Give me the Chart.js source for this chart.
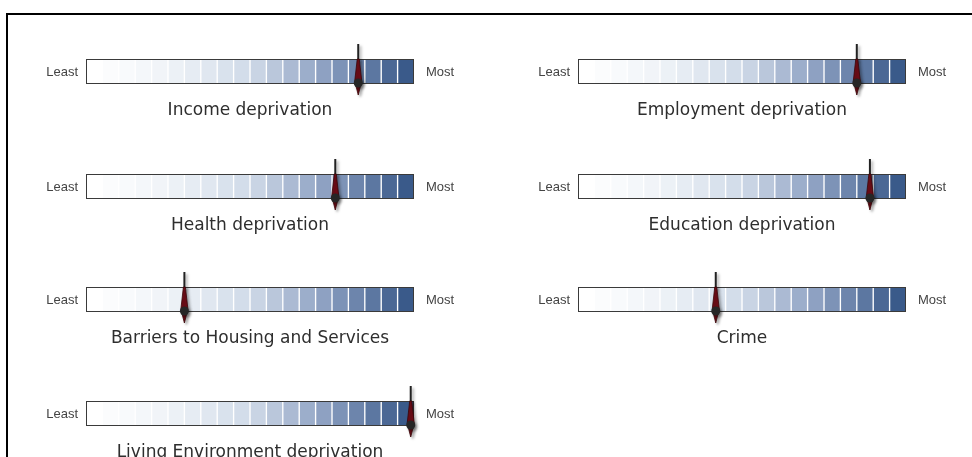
<!DOCTYPE html>
<html>
<head>
<meta charset="utf-8">
<script src="https://cdn.jsdelivr.net/npm/chart.js@4"></script>
<style>
  body { margin: 0; width: 972px; height: 457px; overflow: hidden; background: #fff; position: relative; }
  #frame { position: absolute; left: 6px; top: 13px; right: 0; bottom: 0; border-top: 2px solid #000; border-left: 2px solid #000; }
  canvas { position: absolute; }
</style>
</head>
<body>
<div id="frame"></div>
<script>
// indicator names and where each area sits (percent, least -> most deprived)
const indicators = ['Income deprivation', 'Employment deprivation', 'Health deprivation',
  'Education deprivation', 'Barriers to Housing and Services', 'Crime', 'Living Environment deprivation'];
const scores = [83, 85, 76, 89, 30, 42, 99];
const scaleEnds = ['Least', 'Most'];
const bandCount = 20;

// page layout
const colLeft = [41, 533];
const rowTop = [40, 155, 268, 382];

// white -> navy ramp for the bands
const ramp = [[255,255,255],[238,242,247],[208,218,232],[138,158,192],[58,90,138]];
function bandColor(i) {
  const t = i / (bandCount - 1) * (ramp.length - 1);
  const k = Math.min(Math.floor(t), ramp.length - 2), f = t - k;
  const c = ramp[k].map((v, j) => Math.round(v + (ramp[k + 1][j] - v) * f));
  return 'rgb(' + c.join(',') + ')';
}

const gaugePlugin = {
  id: 'gauge',
  afterDatasetsDraw(chart, args, opts) {
    const ctx = chart.ctx;
    const el = chart.getDatasetMeta(0).data[0];
    const xs = chart.scales.x;
    const top = Math.round(el.y - el.height / 2), bottom = Math.round(el.y + el.height / 2);
    const left = Math.round(xs.getPixelForValue(0)), right = Math.round(xs.getPixelForValue(100));
    ctx.save();
    ctx.strokeStyle = '#3a3a3a';
    ctx.lineWidth = 1;
    ctx.strokeRect(left + 0.5, top + 0.5, right - left - 1, bottom - top - 1);

    ctx.font = '13px "Liberation Sans", Arial, sans-serif';
    ctx.fillStyle = '#444';
    ctx.textBaseline = 'middle';
    ctx.textAlign = 'right';
    ctx.fillText(scaleEnds[0], left - 8, el.y + 1);
    ctx.textAlign = 'left';
    ctx.fillText(scaleEnds[1], right + 12, el.y + 1);

    // needle
    const x = xs.getPixelForValue(opts.score);
    ctx.shadowColor = 'rgba(0,0,0,0.35)';
    ctx.shadowBlur = 3;
    ctx.shadowOffsetX = 2;
    ctx.shadowOffsetY = 2;
    ctx.strokeStyle = '#222';
    ctx.lineWidth = 2;
    ctx.beginPath();
    ctx.moveTo(x, top - 15);
    ctx.lineTo(x, top + 2);
    ctx.stroke();
    ctx.fillStyle = '#6e0c17';
    ctx.beginPath();
    ctx.moveTo(x - 1, top);
    ctx.lineTo(x + 1, top);
    ctx.lineTo(x + 3.5, bottom - 3);
    ctx.lineTo(x, bottom + 11);
    ctx.lineTo(x - 3.5, bottom - 3);
    ctx.closePath();
    ctx.fill();
    ctx.strokeStyle = '#3a0508';
    ctx.lineWidth = 0.8;
    ctx.stroke();
    ctx.fillStyle = '#262626';
    ctx.beginPath();
    ctx.arc(x, bottom - 1, 4.5, 0, Math.PI * 2);
    ctx.fill();
    ctx.restore();
  }
};

indicators.forEach((name, i) => {
  const cv = document.createElement('canvas');
  cv.width = 429;
  cv.height = 100;
  cv.style.left = colLeft[i % 2] + 'px';
  cv.style.top = rowTop[Math.floor(i / 2)] + 'px';
  document.body.appendChild(cv);

  const bands = [];
  for (let b = 0; b < bandCount; b++) {
    bands.push({
      data: [100 / bandCount],
      backgroundColor: bandColor(b),
      borderColor: '#fff',
      borderWidth: { left: 1, right: 1, top: 0, bottom: 0 },
      borderSkipped: false,
      barPercentage: 1,
      categoryPercentage: 1
    });
  }

  new Chart(cv.getContext('2d'), {
    type: 'bar',
    data: { labels: [name], datasets: bands },
    options: {
      indexAxis: 'y',
      responsive: false,
      animation: false,
      devicePixelRatio: 1,
      layout: { padding: { top: 19, bottom: 19, left: 45, right: 56 } },
      scales: {
        x: { type: 'linear', min: 0, max: 100, stacked: true, display: false },
        y: { stacked: true, display: false }
      },
      plugins: {
        legend: { display: false },
        tooltip: { enabled: false },
        title: {
          display: true,
          text: name,
          position: 'bottom',
          color: '#2e2e2e',
          font: { family: 'DejaVu Sans', size: 17, weight: 'normal' },
          padding: { top: 17, bottom: 0 }
        },
        gauge: { score: scores[i] }
      }
    },
    plugins: [gaugePlugin]
  });
});
</script>
</body>
</html>
